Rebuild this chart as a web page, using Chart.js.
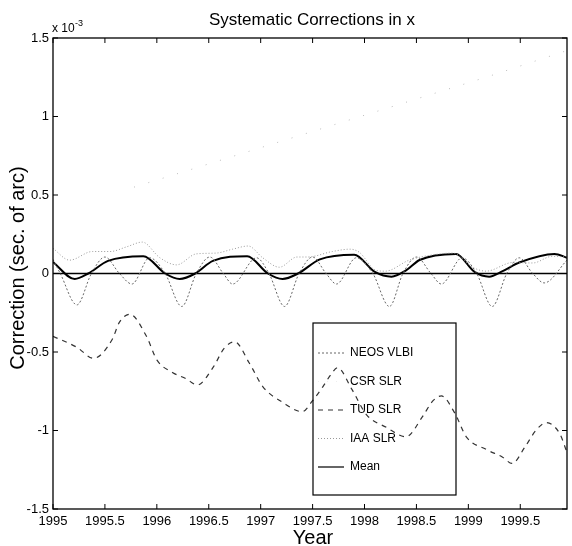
<!DOCTYPE html>
<html>
<head>
<meta charset="utf-8">
<script src="https://cdn.jsdelivr.net/npm/chart.js@4"></script>
<style>
  html, body { margin: 0; padding: 0; background: #fff; }
  #wrap { width: 572px; height: 546px; position: relative; }
</style>
</head>
<body>
<div id="wrap"><canvas id="corrChart" width="572" height="546"></canvas></div>
<script>
// values in units of 1e-3 arc seconds
var xTicks = [1995, 1995.5, 1996, 1996.5, 1997, 1997.5, 1998, 1998.5, 1999, 1999.5];
var yTicks = [-1.5, -1, -0.5, 0, 0.5, 1, 1.5];

var neosYears = [1995, 1995.07, 1995.23, 1995.37, 1995.5, 1995.64, 1995.76, 1995.93, 1996.08, 1996.24, 1996.38, 1996.51, 1996.64, 1996.73, 1996.96,
  1997.08, 1997.23, 1997.37, 1997.5, 1997.63, 1997.73, 1997.92, 1998.08, 1998.24, 1998.37, 1998.5, 1998.64, 1998.74, 1998.94,
  1999.08, 1999.23, 1999.37, 1999.49, 1999.62, 1999.73, 1999.95];
var neosValues = [0.09, 0.0, -0.20, 0.0, 0.105, 0.0, -0.067, 0.10, 0.0, -0.21, 0.0, 0.105, 0.0, -0.067, 0.10,
  0.0, -0.21, 0.0, 0.105, 0.0, -0.067, 0.10, 0.0, -0.21, 0.0, 0.105, 0.0, -0.067, 0.10,
  0.0, -0.21, 0.0, 0.10, 0.0, -0.06, 0.085];

var csrYears = [1995.78, 1996.34, 1999.17, 1999.95];
var csrValues = [0.55, 0.665, 1.25, 1.42];

var tudYears = [1995, 1995.23, 1995.39, 1995.57, 1995.64, 1995.74, 1995.9, 1996.0, 1996.15, 1996.28, 1996.39, 1996.54, 1996.65, 1996.75,
  1996.89, 1997.02, 1997.21, 1997.4, 1997.5, 1997.6, 1997.68, 1997.74, 1997.88, 1998.02, 1998.21, 1998.4, 1998.56, 1998.66, 1998.74,
  1998.87, 1998.98, 1999.17, 1999.33, 1999.42, 1999.55, 1999.65, 1999.75, 1999.88, 1999.95];
var tudValues = [-0.40, -0.47, -0.54, -0.42, -0.31, -0.26, -0.40, -0.55, -0.63, -0.67, -0.71, -0.60, -0.475, -0.435,
  -0.57, -0.72, -0.82, -0.88, -0.81, -0.72, -0.64, -0.60, -0.74, -0.90, -0.98, -1.04, -0.91, -0.81, -0.78,
  -0.89, -1.04, -1.12, -1.17, -1.21, -1.10, -1.0, -0.95, -1.02, -1.14];

var iaaYears = [1995, 1995.16, 1995.38, 1995.55, 1995.71, 1995.86, 1996.03, 1996.19, 1996.38, 1996.57, 1996.73, 1996.88, 1997.02, 1997.18,
  1997.35, 1997.45, 1997.69, 1997.86, 1997.95, 1998.11, 1998.2, 1998.43, 1998.65, 1998.85, 1999.04, 1999.17, 1999.43, 1999.62, 1999.81, 1999.95];
var iaaValues = [0.16, 0.085, 0.14, 0.14, 0.17, 0.20, 0.10, 0.055, 0.125, 0.13, 0.155, 0.175, 0.10, 0.04,
  0.105, 0.105, 0.14, 0.155, 0.135, 0.02, 0.015, 0.085, 0.118, 0.13, 0.04, 0.015, 0.07, 0.067, 0.11, 0.105];

var meanYears = [1995, 1995.21, 1995.34, 1995.53, 1995.87, 1996.08, 1996.22, 1996.37, 1996.54, 1996.87, 1997.07, 1997.21, 1997.36,
  1997.57, 1997.9, 1998.1, 1998.26, 1998.4, 1998.53, 1998.88, 1999.06, 1999.2, 1999.33, 1999.49, 1999.83, 1999.95];
var meanValues = [0.073, -0.035, 0.0, 0.08, 0.11, 0.0, -0.035, 0.0, 0.08, 0.11, 0.0, -0.035, 0.0,
  0.09, 0.12, 0.01, -0.02, 0.02, 0.086, 0.125, 0.01, -0.02, 0.015, 0.07, 0.125, 0.10];

var zeroYears = [1995, 1999.95];
var zeroValues = [0, 0];

function pts(xs, ys) {
  return xs.map(function(x, i) { return {x: x, y: ys[i]}; });
}

var legendItems = [
  {text: "NEOS VLBI", color: "#666", dash: [2, 2], width: 1},
  {text: "CSR SLR", color: "#eee", dash: [1, 8], width: 1},
  {text: "TUD SLR", color: "#333", dash: [5, 5], width: 1.2},
  {text: "IAA SLR", color: "#999", dash: [1, 2], width: 1},
  {text: "Mean", color: "#000", dash: [], width: 1.2}
];

var fontMain = "'Liberation Sans', Arial, sans-serif";

var extras = {
  id: "extras",
  afterDraw: function(chart) {
    var ctx = chart.ctx;
    var a = chart.chartArea;
    var xs = chart.scales.x, ys = chart.scales.y;
    ctx.save();
    ctx.strokeStyle = "#000";
    ctx.lineWidth = 1.3;
    ctx.setLineDash([]);
    ctx.strokeRect(a.left, a.top, a.right - a.left, a.bottom - a.top);
    ctx.lineWidth = 1;
    xTicks.forEach(function(v) {
      var px = xs.getPixelForValue(v);
      ctx.beginPath();
      ctx.moveTo(px, a.bottom); ctx.lineTo(px, a.bottom - 5);
      ctx.moveTo(px, a.top); ctx.lineTo(px, a.top + 5);
      ctx.stroke();
    });
    yTicks.forEach(function(v) {
      var py = ys.getPixelForValue(v);
      ctx.beginPath();
      ctx.moveTo(a.left, py); ctx.lineTo(a.left + 5, py);
      ctx.moveTo(a.right, py); ctx.lineTo(a.right - 5, py);
      ctx.stroke();
    });

    // titles
    ctx.fillStyle = "#000";
    ctx.textAlign = "center";
    ctx.textBaseline = "alphabetic";
    ctx.font = "17px " + fontMain;
    ctx.fillText("Systematic Corrections in x", 312, 25);
    ctx.font = "20px " + fontMain;
    ctx.fillText("Year", 313, 544);
    ctx.save();
    ctx.translate(24, 268);
    ctx.rotate(-Math.PI / 2);
    ctx.font = "20px " + fontMain;
    ctx.fillText("Correction (sec. of arc)", 0, 0);
    ctx.restore();

    // exponent
    ctx.textAlign = "left";
    ctx.font = "12px " + fontMain;
    ctx.fillText("x 10", 52, 32);
    ctx.font = "9px " + fontMain;
    ctx.fillText("-3", 75, 26);

    // legend box
    ctx.strokeStyle = "#000";
    ctx.lineWidth = 1.2;
    ctx.strokeRect(313, 323, 143, 172);
    ctx.font = "12px " + fontMain;
    ctx.textBaseline = "middle";
    legendItems.forEach(function(it, i) {
      var y = 353 + i * 28.5;
      ctx.strokeStyle = it.color;
      ctx.lineWidth = it.width;
      ctx.setLineDash(it.dash);
      ctx.beginPath();
      ctx.moveTo(318, y); ctx.lineTo(344, y);
      ctx.stroke();
      ctx.setLineDash([]);
      ctx.fillText(it.text, 350, y);
    });
    ctx.restore();
  }
};

var ctx = document.getElementById("corrChart").getContext("2d");
var corrChart = new Chart(ctx, {
  type: "line",
  data: {
    datasets: [
      {label: "CSR SLR", data: pts(csrYears, csrValues), borderColor: "#bbb", borderWidth: 1, borderDash: [1, 14], tension: 0},
      {label: "IAA SLR", data: pts(iaaYears, iaaValues), borderColor: "#999", borderWidth: 1, borderDash: [1, 2], cubicInterpolationMode: "monotone"},
      {label: "NEOS VLBI", data: pts(neosYears, neosValues), borderColor: "#666", borderWidth: 1, borderDash: [2, 2], cubicInterpolationMode: "monotone"},
      {label: "TUD SLR", data: pts(tudYears, tudValues), borderColor: "#333", borderWidth: 1.2, borderDash: [5, 5], cubicInterpolationMode: "monotone"},
      {label: "zero", data: pts(zeroYears, zeroValues), borderColor: "#000", borderWidth: 1.3, tension: 0},
      {label: "Mean", data: pts(meanYears, meanValues), borderColor: "#000", borderWidth: 2, cubicInterpolationMode: "monotone"}
    ]
  },
  options: {
    responsive: false,
    animation: false,
    devicePixelRatio: 1,
    layout: {padding: {top: 38, right: 5, left: 0, bottom: 0}},
    elements: {point: {radius: 0}},
    plugins: {legend: {display: false}, tooltip: {enabled: false}},
    scales: {
      x: {
        type: "linear",
        min: 1995,
        max: 1999.95,
        afterBuildTicks: function(s) { s.ticks = xTicks.map(function(v) { return {value: v}; }); },
        afterFit: function(s) { s.height = 37; },
        grid: {display: false, drawTicks: false},
        border: {display: false},
        ticks: {
          color: "#000",
          padding: 5,
          maxRotation: 0,
          autoSkip: false,
          font: {family: fontMain, size: 13},
          callback: function(v) { return String(v); }
        }
      },
      y: {
        min: -1.5,
        max: 1.5,
        afterBuildTicks: function(s) { s.ticks = yTicks.map(function(v) { return {value: v}; }); },
        afterFit: function(s) { s.width = 53; },
        grid: {display: false, drawTicks: false},
        border: {display: false},
        ticks: {
          color: "#000",
          padding: 4,
          font: {family: fontMain, size: 13},
          callback: function(v) { return String(v); }
        }
      }
    }
  },
  plugins: [extras]
});
</script>
</body>
</html>
